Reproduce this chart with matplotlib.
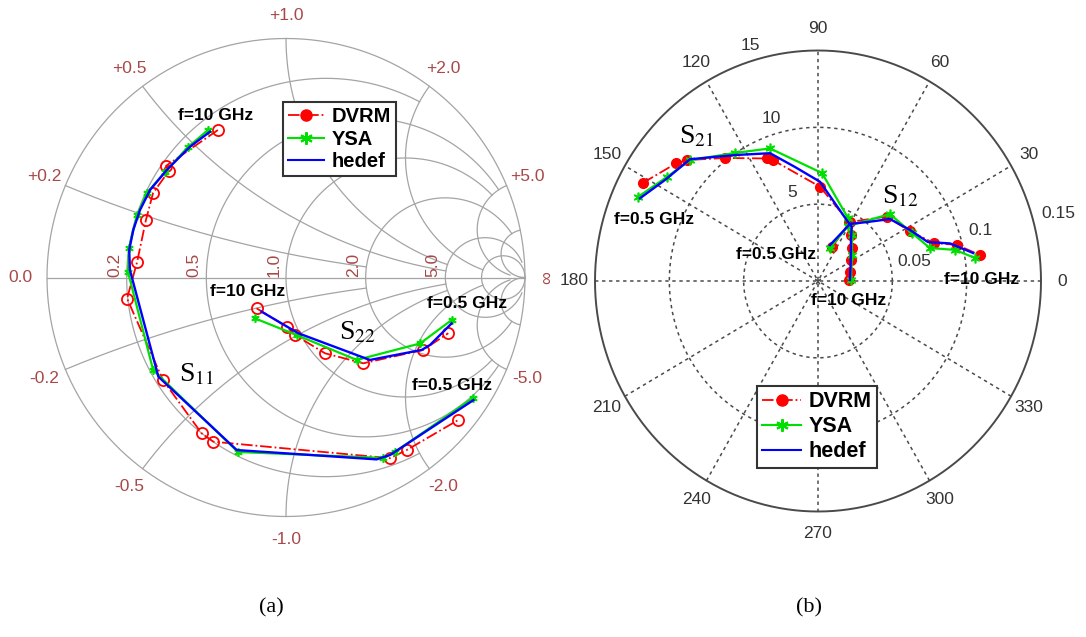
"""Smith chart (a) and polar plot (b) of the S-parameters: DVRM vs YSA vs target (hedef)."""
import numpy as np
import matplotlib

matplotlib.use("Agg")
import matplotlib.pyplot as plt  # noqa: E402
from matplotlib.lines import Line2D  # noqa: E402

W, H = 1086, 637
RED, GREEN, BLUE = "#ff0000", "#00e000", "#0000ff"
LABEL_RED = "#a84848"
GRID_GREY = "#a4a4a4"
POLAR_GREY = "#4a4a4a"

# ---- (a) Smith chart data: reflection coefficient (Re, Im) -------------
s11_dvrm_re = [-0.285, -0.502, -0.490, -0.556, -0.586, -0.623, -0.665, -0.515, -0.353, -0.304, 0.435, 0.505, 0.721]
s11_dvrm_im = [0.617, 0.467, 0.446, 0.354, 0.241, 0.065, -0.088, -0.429, -0.652, -0.687, -0.756, -0.722, -0.596]
s11_ysa_re = [-0.326, -0.410, -0.506, -0.582, -0.623, -0.657, -0.661, -0.556, -0.201, 0.406, 0.456, 0.782]
s11_ysa_im = [0.617, 0.546, 0.441, 0.354, 0.262, 0.123, 0.023, -0.387, -0.730, -0.755, -0.730, -0.504]
s11_hedef_re = [-0.318, -0.402, -0.499, -0.569, -0.611, -0.639, -0.656, -0.653, -0.534, -0.206, 0.379, 0.435, 0.784]
s11_hedef_im = [0.610, 0.547, 0.450, 0.366, 0.282, 0.199, 0.115, 0.031, -0.415, -0.722, -0.761, -0.743, -0.513]

s22_dvrm_re = [-0.123, 0.003, 0.038, 0.163, 0.323, 0.574, 0.679]
s22_dvrm_im = [-0.129, -0.206, -0.241, -0.317, -0.359, -0.303, -0.233]
s22_ysa_re = [-0.130, 0.045, 0.296, 0.561, 0.693]
s22_ysa_im = [-0.171, -0.241, -0.345, -0.276, -0.178]
s22_hedef_re = [-0.102, 0.051, 0.351, 0.568, 0.603, 0.693]
s22_hedef_im = [-0.143, -0.233, -0.345, -0.303, -0.282, -0.192]

smith_values = [0.2, 0.5, 1.0, 2.0, 5.0, 10.0]       # grid circles / arcs
smith_ends = [2, 5, 5, 10, 30, np.inf]               # where each one stops
smith_labels = ["0.2", "0.5", "1.0", "2.0", "5.0"]

# ---- (b) polar data: magnitude, phase (deg); S12 in linear units ---------
s21_dvrm_mag = [13.39, 12.24, 11.81, 10.16, 8.68, 8.43, 6.14, 4.37, 3.73, 3.14, 2.61, 2.23, 2.09]
s21_dvrm_ang = [151.5, 141.3, 138.2, 128.0, 113.3, 111.1, 88.8, 61.4, 53.4, 43.2, 31.6, 15.2, 1.9]
s21_ysa_mag = [13.29, 12.21, 11.66, 10.03, 9.21, 7.03, 4.57, 3.77, 2.84, 2.22]
s21_ysa_ang = [155.7, 146.3, 137.6, 123.8, 110.5, 87.8, 63.8, 52.6, 36.5, 1.8]
s21_hedef_mag = [13.13, 12.21, 11.70, 10.64, 9.86, 8.92, 7.58, 6.46, 4.41, 4.20, 3.47, 2.87, 2.40, 2.15]
s21_hedef_ang = [155.8, 147.4, 137.4, 130.6, 123.7, 111.2, 101.8, 88.8, 64.1, 57.3, 50.3, 39.4, 24.1, 1.8]

s12_dvrm_mag = [0.0240, 0.0440, 0.0626, 0.0698, 0.0818, 0.0964, 0.1103]
s12_dvrm_ang = [66.9, 60.8, 42.1, 27.5, 17.6, 14.1, 8.8]
s12_ysa_mag = [0.0230, 0.0411, 0.0651, 0.0705, 0.0783, 0.0943, 0.1066]
s12_ysa_ang = [69.4, 60.6, 42.0, 26.3, 15.9, 12.4, 8.1]
s12_hedef_mag = [0.0248, 0.0429, 0.0506, 0.0630, 0.0702, 0.0782, 0.0921, 0.1059]
s12_hedef_ang = [70.9, 59.9, 49.3, 39.8, 28.2, 18.9, 15.4, 9.9]
S12_SCALE = 100.0                                    # S12 drawn on the 0.05/0.1/0.15 rings

polar_rings = [5, 10, 15]
polar_angles = list(range(0, 360, 30))
s12_ring_labels = ["0.05", "0.1", "0.15"]

plt.rcParams["font.family"] = ["Liberation Sans", "DejaVu Sans"]
plt.rcParams["mathtext.fontset"] = "stix"

fig = plt.figure(figsize=(W / 100, H / 100), dpi=100)


def _px_axes(cx, cy, rx, ry, lim):
    ax = fig.add_axes([(cx - rx) / W, 1 - (cy + ry) / H, 2 * rx / W, 2 * ry / H])
    ax.set_xlim(-lim, lim)
    ax.set_ylim(-lim, lim)
    ax.set_axis_off()
    return ax


def _label(px, py, s, **kw):
    kw.setdefault("ha", "center")
    kw.setdefault("va", "center")
    fig.text(px / W, 1 - py / H, s, **kw)


def _gamma(z):
    return (z - 1) / (z + 1)


def _xy(mag, ang, scale=1.0):
    a = np.radians(ang)
    m = np.asarray(mag) * scale
    return m * np.cos(a), m * np.sin(a)


def _legend(ax, anchor, size):
    h = [Line2D([], [], color=RED, ls="-.", lw=1.3, marker="o", mfc=RED, mec=RED, ms=8),
         Line2D([], [], color=GREEN, lw=1.5, marker=(6, 2, 0), ms=9, mew=1.5),
         Line2D([], [], color=BLUE, lw=1.5)]
    leg = ax.legend(h, ["DVRM", "YSA", "hedef"], loc="upper left", bbox_to_anchor=anchor,
                    borderaxespad=0, prop={"weight": "bold", "size": size}, fancybox=False,
                    borderpad=0.25, labelspacing=0.18, handlelength=1.8, handletextpad=0.35,
                    framealpha=1)
    leg.get_frame().set_edgecolor("#333333")
    leg.get_frame().set_linewidth(1.5)


# ======================= (a) Smith chart =================================
ax_s = _px_axes(286, 277.5, 239, 239, 1.0)
gl = dict(color=GRID_GREY, lw=0.9, clip_on=False, zorder=1)
t = np.linspace(0, 2 * np.pi, 721)
ax_s.plot(np.cos(t), np.sin(t), **gl)
ax_s.plot([-1, 1], [0, 0], **gl)
for val, end in zip(smith_values, smith_ends):
    tt = np.linspace(-np.arctan(end), np.arctan(end), 600)
    g = _gamma(val + 1j * np.tan(tt))
    ax_s.plot(g.real, g.imag, **gl)
    tt = np.linspace(0, np.arctan(end), 600)
    for sgn in (1, -1):
        g = _gamma(np.tan(tt) + 1j * sgn * val)
        ax_s.plot(g.real, g.imag, **gl)

for val, txt in zip(smith_values, smith_labels):
    g0 = (val - 1) / (val + 1)
    ax_s.text(g0 - 0.02, 0.004, txt, rotation=90, ha="right", va="bottom",
              color=LABEL_RED, fontsize=12.5)
    th = np.pi - 2 * np.arctan(val)
    ax_s.text(1.095 * np.cos(th), 1.095 * np.sin(th), "+" + txt, ha="center", va="center",
              color=LABEL_RED, fontsize=12.5)
    ax_s.text(1.095 * np.cos(th), -1.095 * np.sin(th), "-" + txt, ha="center", va="center",
              color=LABEL_RED, fontsize=12.5)
ax_s.text(-1.11, 0, "0.0", ha="center", va="center", color=LABEL_RED, fontsize=12.5)
ax_s.text(1.095, 0, "\u221e", ha="center", va="center", color=LABEL_RED, fontsize=13, rotation=90)

for re, im in ((s11_dvrm_re, s11_dvrm_im), (s22_dvrm_re, s22_dvrm_im)):
    ax_s.plot(re, im, color=RED, ls="-.", lw=1.3, marker="o", mfc="none", mec=RED, ms=8,
              mew=1.3, zorder=3)
for re, im in ((s11_ysa_re, s11_ysa_im), (s22_ysa_re, s22_ysa_im)):
    ax_s.plot(re, im, color=GREEN, lw=1.6, marker=(6, 2, 0), ms=6, mew=1.2, zorder=4)
for re, im in ((s11_hedef_re, s11_hedef_im), (s22_hedef_re, s22_hedef_im)):
    ax_s.plot(re, im, color=BLUE, lw=1.7, zorder=5)

_legend(ax_s, ((283 - 47) / 478, 1 - (102 - 38.5) / 478), 14.5)

bold = dict(fontsize=12.5, fontweight="bold")
serif = dict(fontsize=20, family=["Liberation Serif", "DejaVu Serif"])
_label(216, 115, "f=10 GHz", **bold)
_label(248, 292, "f=10 GHz", **bold)
_label(467, 303, "f=0.5 GHz", **bold)
_label(452, 385, "f=0.5 GHz", **bold)
_label(197, 375, "S$_{11}$", **serif)
_label(357, 333, "S$_{22}$", **serif)

# ======================= (b) polar plot ==================================
ax_p = _px_axes(818, 281, 223, 230.5, 15.0)
dot = dict(color=POLAR_GREY, lw=1.1, ls=(0, (2.2, 2.4)), clip_on=False, zorder=1)
for r in polar_rings[:-1]:
    ax_p.plot(r * np.cos(t), r * np.sin(t), **dot)
ax_p.plot(15 * np.cos(t), 15 * np.sin(t), color=POLAR_GREY, lw=1.4, clip_on=False, zorder=1)
for a in polar_angles[:6]:
    ar = np.radians(a)
    ax_p.plot([-15 * np.cos(ar), 15 * np.cos(ar)], [-15 * np.sin(ar), 15 * np.sin(ar)], **dot)
for a in polar_angles:
    ar = np.radians(a)
    ax_p.text(16.4 * np.cos(ar), 16.4 * np.sin(ar), str(a), ha="center", va="center",
              fontsize=12.5, color="#333333")
ra = np.radians(106.5)
for r in polar_rings:
    ax_p.text((r + 1) * np.cos(ra), (r + 1) * np.sin(ra), str(r), ha="center", va="center",
              fontsize=12.5, color="#333333")
for (x, y), txt in zip([(6.46, 1.27), (10.9, 3.3), (16.17, 4.39)], s12_ring_labels):
    ax_p.text(x, y, txt, ha="center", va="center", fontsize=12.5, color="#333333")

for mag, ang, sc in ((s21_dvrm_mag, s21_dvrm_ang, 1.0), (s12_dvrm_mag, s12_dvrm_ang, S12_SCALE)):
    x, y = _xy(mag, ang, sc)
    ax_p.plot(x, y, color=RED, ls="-.", lw=1.3, marker="o", mfc=RED, mec=RED, ms=7, zorder=3)
for mag, ang, sc in ((s21_ysa_mag, s21_ysa_ang, 1.0), (s12_ysa_mag, s12_ysa_ang, S12_SCALE)):
    x, y = _xy(mag, ang, sc)
    ax_p.plot(x, y, color=GREEN, lw=1.6, marker=(6, 2, 0), ms=7, mew=1.2, zorder=4)
for mag, ang, sc in ((s21_hedef_mag, s21_hedef_ang, 1.0), (s12_hedef_mag, s12_hedef_ang, S12_SCALE)):
    x, y = _xy(mag, ang, sc)
    ax_p.plot(x, y, color=BLUE, lw=1.7, zorder=5)

_legend(ax_p, ((757 - 595) / 446, 1 - (386 - 50.5) / 461), 15.5)

_label(697, 137, "S$_{21}$", **serif)
_label(900, 197, "S$_{12}$", **serif)
_label(654, 219.5, "f=0.5 GHz", **bold)
_label(776.5, 254.5, "f=0.5 GHz", **bold)
_label(849, 300.5, "f=10 GHz", **bold)
_label(982, 280, "f=10 GHz", **bold)

cap = dict(fontsize=16, family=["Liberation Serif", "DejaVu Serif"])
_label(271, 608, "(a)", **cap)
_label(809, 608, "(b)", **cap)

fig.savefig("out.png", dpi=100, facecolor="white")
plt.close(fig)
